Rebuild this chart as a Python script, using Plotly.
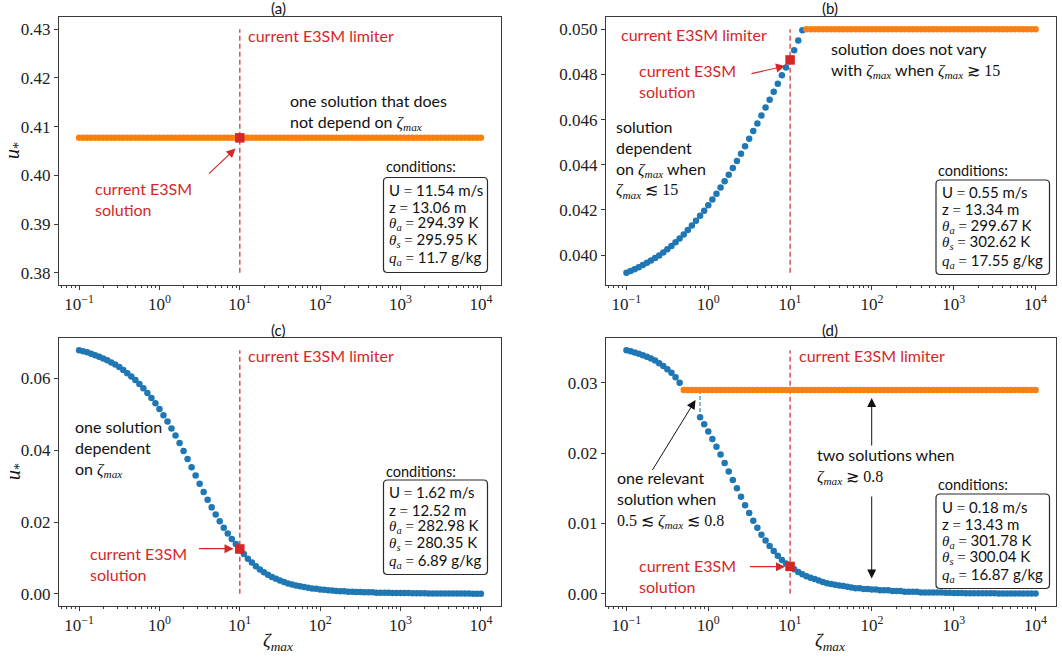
import numpy as np
import plotly.graph_objects as go

# ---------------------------------------------------------------------------
# data
# ---------------------------------------------------------------------------
# zeta_max sampling grid: 20 samples per decade from 1e-1 to 1e4
zeta_max = np.logspace(-1, 4, 101)
limiter = 10.0  # current E3SM limiter on zeta_max

# (a) one root, independent of zeta_max
ustar_a = [
    0.4077, 0.4077, 0.4077, 0.4077, 0.4077, 0.4077, 0.4077, 0.4077, 0.4077, 0.4077,
    0.4077, 0.4077, 0.4077, 0.4077, 0.4077, 0.4077, 0.4077, 0.4077, 0.4077, 0.4077,
    0.4077, 0.4077, 0.4077, 0.4077, 0.4077, 0.4077, 0.4077, 0.4077, 0.4077, 0.4077,
    0.4077, 0.4077, 0.4077, 0.4077, 0.4077, 0.4077, 0.4077, 0.4077, 0.4077, 0.4077,
    0.4077, 0.4077, 0.4077, 0.4077, 0.4077, 0.4077, 0.4077, 0.4077, 0.4077, 0.4077,
    0.4077, 0.4077, 0.4077, 0.4077, 0.4077, 0.4077, 0.4077, 0.4077, 0.4077, 0.4077,
    0.4077, 0.4077, 0.4077, 0.4077, 0.4077, 0.4077, 0.4077, 0.4077, 0.4077, 0.4077,
    0.4077, 0.4077, 0.4077, 0.4077, 0.4077, 0.4077, 0.4077, 0.4077, 0.4077, 0.4077,
    0.4077, 0.4077, 0.4077, 0.4077, 0.4077, 0.4077, 0.4077, 0.4077, 0.4077, 0.4077,
    0.4077, 0.4077, 0.4077, 0.4077, 0.4077, 0.4077, 0.4077, 0.4077, 0.4077, 0.4077,
    0.4077,
]

# (b) dependent branch (first 44 samples), then flat branch
ustar_b_dep = [
    0.03922, 0.03930, 0.03938, 0.03947, 0.03956, 0.03966, 0.03976, 0.03987, 0.03999, 0.04012,
    0.04026, 0.04041, 0.04057, 0.04074, 0.04092, 0.04111, 0.04131, 0.04152, 0.04174, 0.04197,
    0.04221, 0.04246, 0.04272, 0.04299, 0.04327, 0.04356, 0.04386, 0.04417, 0.04449, 0.04482,
    0.04515, 0.04549, 0.04583, 0.04618, 0.04653, 0.04688, 0.04723, 0.04759, 0.04796, 0.04830,
    0.04864, 0.04907, 0.04950, 0.04995,
]
ustar_b_flat = [
    0.0500, 0.0500, 0.0500, 0.0500, 0.0500, 0.0500, 0.0500, 0.0500, 0.0500, 0.0500,
    0.0500, 0.0500, 0.0500, 0.0500, 0.0500, 0.0500, 0.0500, 0.0500, 0.0500, 0.0500,
    0.0500, 0.0500, 0.0500, 0.0500, 0.0500, 0.0500, 0.0500, 0.0500, 0.0500, 0.0500,
    0.0500, 0.0500, 0.0500, 0.0500, 0.0500, 0.0500, 0.0500, 0.0500, 0.0500, 0.0500,
    0.0500, 0.0500, 0.0500, 0.0500, 0.0500, 0.0500, 0.0500, 0.0500, 0.0500, 0.0500,
    0.0500, 0.0500, 0.0500, 0.0500, 0.0500, 0.0500, 0.0500,
]

# (c) one root, dependent on zeta_max
ustar_c = [
    0.0679, 0.0676, 0.0673, 0.0669, 0.0665, 0.0661, 0.0656, 0.0651, 0.0645, 0.0639,
    0.0632, 0.0624, 0.0615, 0.0606, 0.0596, 0.0585, 0.0573, 0.0560, 0.0546, 0.0531,
    0.0515, 0.0498, 0.0480, 0.0461, 0.0441, 0.0420, 0.0398, 0.0376, 0.0353, 0.0330,
    0.0307, 0.0284, 0.0262, 0.0241, 0.0221, 0.0202, 0.0184, 0.0168, 0.0153, 0.0139,
    0.0125, 0.0111, 0.0098, 0.0087, 0.0077, 0.0068, 0.0060, 0.0053, 0.0047, 0.0042,
    0.0037, 0.0033, 0.0029, 0.0026, 0.0023, 0.0021, 0.0019, 0.0017, 0.0015, 0.0014,
    0.0012, 0.0011, 0.0010, 0.0009, 0.0008, 0.0007, 0.0007, 0.0006, 0.0006, 0.0005,
    0.0005, 0.0004, 0.0004, 0.0004, 0.0003, 0.0003, 0.0003, 0.0003, 0.0002, 0.0002,
    0.0002, 0.0002, 0.0002, 0.00015, 0.00014, 0.00013, 0.00012, 0.00011, 0.0001, 0.0001,
    0.00009, 0.00008, 0.00008, 0.00007, 0.00006, 0.00006, 0.00005, 0.00005, 0.00004, 0.00004,
    0.00004,
]

# (d) upper branch (first 14 samples), flat branch (from sample 14),
#     lower branch (from sample 18)
ustar_d_upper = [
    0.03465, 0.03450, 0.03433, 0.03414, 0.03393, 0.03370, 0.03345, 0.03317, 0.03280, 0.03240,
    0.03195, 0.03145, 0.03080, 0.03000,
]
ustar_d_flat = [
    0.0290, 0.0290, 0.0290, 0.0290, 0.0290, 0.0290, 0.0290, 0.0290, 0.0290, 0.0290,
    0.0290, 0.0290, 0.0290, 0.0290, 0.0290, 0.0290, 0.0290, 0.0290, 0.0290, 0.0290,
    0.0290, 0.0290, 0.0290, 0.0290, 0.0290, 0.0290, 0.0290, 0.0290, 0.0290, 0.0290,
    0.0290, 0.0290, 0.0290, 0.0290, 0.0290, 0.0290, 0.0290, 0.0290, 0.0290, 0.0290,
    0.0290, 0.0290, 0.0290, 0.0290, 0.0290, 0.0290, 0.0290, 0.0290, 0.0290, 0.0290,
    0.0290, 0.0290, 0.0290, 0.0290, 0.0290, 0.0290, 0.0290, 0.0290, 0.0290, 0.0290,
    0.0290, 0.0290, 0.0290, 0.0290, 0.0290, 0.0290, 0.0290, 0.0290, 0.0290, 0.0290,
    0.0290, 0.0290, 0.0290, 0.0290, 0.0290, 0.0290, 0.0290, 0.0290, 0.0290, 0.0290,
    0.0290, 0.0290, 0.0290, 0.0290, 0.0290, 0.0290, 0.0290,
]
ustar_d_lower = [
    0.0251, 0.0241, 0.0231, 0.0220, 0.0209, 0.0198, 0.0186, 0.0174, 0.0162, 0.0150,
    0.0138, 0.0126, 0.0115, 0.0104, 0.0094, 0.0084, 0.0076, 0.0068, 0.0061, 0.0054,
    0.0048, 0.0043, 0.0039, 0.0035, 0.0031, 0.0028, 0.0025, 0.0023, 0.0021, 0.0019,
    0.0017, 0.0015, 0.0014, 0.0013, 0.0012, 0.0011, 0.0010, 0.0009, 0.0008, 0.0008,
    0.0007, 0.0007, 0.0006, 0.0006, 0.0005, 0.0005, 0.0005, 0.0004, 0.0004, 0.0004,
    0.0003, 0.0003, 0.0003, 0.0003, 0.0002, 0.0002, 0.0002, 0.0002, 0.0002, 0.0002,
    0.00015, 0.00014, 0.00013, 0.00012, 0.00011, 0.0001, 0.0001, 0.00009, 0.00009, 0.00008,
    0.00008, 0.00007, 0.00007, 0.00006, 0.00006, 0.00005, 0.00005, 0.00005, 0.00004, 0.00004,
    0.00004, 0.00004, 0.00004,
]

# u* from the current E3SM setup (at zeta_max = limiter), per panel a-d
e3sm_ustar = [0.4077, 0.04864, 0.0125, 0.0039]
# vertical extent of the limiter line, per panel
limiter_lo = [0.38, 0.03922, 0.0, 0.0]
limiter_hi = [0.43, 0.0500, 0.0679, 0.03465]

# forcing conditions, per panel a-d
cond_U = [11.54, 0.55, 1.62, 0.18]
cond_z = [13.06, 13.34, 12.52, 13.43]
cond_theta_a = [294.39, 299.67, 282.98, 301.78]
cond_theta_s = [295.95, 302.62, 280.35, 300.04]
cond_q_a = [11.7, 17.55, 6.89, 16.87]

panel_titles = ["(a)", "(b)", "(c)", "(d)"]
xtick_vals = [0.1, 1, 10, 100, 1000, 10000]
xtick_text = ["10<sup>−1</sup>", "10<sup>0</sup>", "10<sup>1</sup>",
              "10<sup>2</sup>", "10<sup>3</sup>", "10<sup>4</sup>"]
ytick_vals = [
    [0.38, 0.39, 0.40, 0.41, 0.42, 0.43],
    [0.040, 0.042, 0.044, 0.046, 0.048, 0.050],
    [0.00, 0.02, 0.04, 0.06],
    [0.00, 0.01, 0.02, 0.03],
]
ytick_fmt = [".2f", ".3f", ".2f", ".2f"]
y_ranges = [
    [0.3775, 0.4325],
    [0.03868, 0.05054],
    [-0.0034, 0.0713],
    [-0.00173, 0.03638],
]

# ---------------------------------------------------------------------------
# styling helpers
# ---------------------------------------------------------------------------
W, H = 1062, 659
BLUE = "#1f77b4"
ORANGE = "#ff7f0e"
RED = "#d62728"
INK = "#111111"
FRAME = "#3a3a3a"
SANS = "Lato"
SERIF = "Liberation Serif"
FS = 16  # annotation font size


def px(x):
    return x / W


def py(y):
    return 1 - y / H


def math(s):
    return f'<span style="font-family:{SERIF}">{s}</span>'


ZMAX = math("<i>ζ</i><sub><i>max</i></sub>")

minor_vals = [m * 10.0 ** e for e in range(-2, 5) for m in range(2, 10)]

x_domains = [[59 / W, 501 / W], [606 / W, 1056 / W]]
y_domains = [[1 - 285 / H, 1 - 17 / H], [1 - 606 / H, 1 - 338 / H]]
panel_dom = [(0, 0), (1, 0), (0, 1), (1, 1)]  # (column, row)

fig = go.Figure()
layout_axes = {}
for k in range(4):
    col, row = panel_dom[k]
    sfx = "" if k == 0 else str(k + 1)
    layout_axes["xaxis" + sfx] = dict(
        domain=x_domains[col], anchor="y" + sfx, type="log", range=[-1.25, 4.25],
        tickmode="array", tickvals=xtick_vals, ticktext=xtick_text,
        ticks="outside", ticklen=4, tickwidth=1, tickcolor=FRAME,
        showline=True, linecolor=FRAME, linewidth=1, mirror=True,
        showgrid=False, zeroline=False,
        tickfont=dict(family=SERIF, size=17, color="#222222"),
        minor=dict(tickmode="array", tickvals=minor_vals, ticks="outside",
                   ticklen=2, tickwidth=0.8, tickcolor=FRAME, showgrid=False),
    )
    layout_axes["yaxis" + sfx] = dict(
        domain=y_domains[row], anchor="x" + sfx, range=y_ranges[k],
        tickmode="array", tickvals=ytick_vals[k], tickformat=ytick_fmt[k],
        ticks="outside", ticklen=4, tickwidth=1, tickcolor=FRAME,
        showline=True, linecolor=FRAME, linewidth=1, mirror=True,
        showgrid=False, zeroline=False,
        tickfont=dict(family=SERIF, size=17, color="#222222"),
    )


def dots(x, y, color, k):
    sfx = "" if k == 0 else str(k + 1)
    fig.add_trace(go.Scatter(
        x=x, y=y, mode="markers", xaxis="x" + sfx, yaxis="y" + sfx,
        marker=dict(color=color, size=6.5, line=dict(width=0)),
        showlegend=False, hoverinfo="skip"))


def axis_line(x, y, color, dash, width, k):
    sfx = "" if k == 0 else str(k + 1)
    fig.add_trace(go.Scatter(
        x=x, y=y, mode="lines", xaxis="x" + sfx, yaxis="y" + sfx,
        line=dict(color=color, dash=dash, width=width),
        showlegend=False, hoverinfo="skip"))


# limiter lines (behind the dots)
for k in range(4):
    axis_line([limiter, limiter], [limiter_lo[k], limiter_hi[k]], RED, "5px,3px", 1.2, k)

# panel (a)
dots(zeta_max, ustar_a, ORANGE, 0)
# panel (b)
dots(zeta_max[:44], ustar_b_dep, BLUE, 1)
dots(zeta_max[44:], ustar_b_flat, ORANGE, 1)
# panel (c)
dots(zeta_max, ustar_c, BLUE, 2)
# panel (d)
dots(zeta_max[:14], ustar_d_upper, BLUE, 3)
axis_line([zeta_max[18], zeta_max[18]], [ustar_d_flat[0], ustar_d_lower[0]],
          "#5b9fd0", "4px,2px", 1.5, 3)
dots(zeta_max[18:], ustar_d_lower, BLUE, 3)
dots(zeta_max[14:], ustar_d_flat, ORANGE, 3)

# current E3SM solution markers
for k in range(4):
    sfx = "" if k == 0 else str(k + 1)
    fig.add_trace(go.Scatter(
        x=[limiter], y=[e3sm_ustar[k]], mode="markers", xaxis="x" + sfx, yaxis="y" + sfx,
        marker=dict(color=RED, size=9.5, symbol="square", line=dict(width=0)),
        showlegend=False, hoverinfo="skip"))

# ---------------------------------------------------------------------------
# annotations
# ---------------------------------------------------------------------------
annotations = []
shapes = []


def text(x, y, s, color=INK, size=FS, family=SANS, xanchor="left", angle=0, pad=1):
    annotations.append(dict(
        x=px(x), y=py(y), xref="paper", yref="paper", text=s, showarrow=False,
        xanchor=xanchor, yanchor="middle", align="left", textangle=angle,
        borderpad=pad, font=dict(family=family, size=size, color=color)))


def arrow(tip, tail, color, width=1.2, size=1.0, head=2):
    annotations.append(dict(
        x=px(tip[0]), y=py(tip[1]), xref="paper", yref="paper",
        ax=tail[0] - tip[0], ay=tail[1] - tip[1], axref="pixel", ayref="pixel",
        text="", showarrow=True, arrowhead=head, arrowsize=size, arrowwidth=width,
        arrowcolor=color, standoff=0, startstandoff=0))


def rounded_box(x0, y0, x1, y1, r=4):
    p = [
        f"M {px(x0 + r)} {py(y0)}", f"L {px(x1 - r)} {py(y0)}",
        f"Q {px(x1)} {py(y0)} {px(x1)} {py(y0 + r)}",
        f"L {px(x1)} {py(y1 - r)}",
        f"Q {px(x1)} {py(y1)} {px(x1 - r)} {py(y1)}",
        f"L {px(x0 + r)} {py(y1)}",
        f"Q {px(x0)} {py(y1)} {px(x0)} {py(y1 - r)}",
        f"L {px(x0)} {py(y0 + r)}",
        f"Q {px(x0)} {py(y0)} {px(x0 + r)} {py(y0)}", "Z",
    ]
    shapes.append(dict(type="path", path=" ".join(p), xref="paper", yref="paper",
                       line=dict(color="#2a2a2a", width=1.2), fillcolor="white", layer="above"))


def conditions(k, left, label_y, box, line_ys):
    text(left, label_y, "conditions:", size=14.5)
    rounded_box(*box)
    eq = math(" = ")
    rows = [
        f"U{eq}{cond_U[k]:.2f} m/s",
        f"z{eq}{cond_z[k]:.2f} m",
        math("<i>θ</i><sub><i>a</i></sub>") + f"{eq}{cond_theta_a[k]:.2f} K",
        math("<i>θ</i><sub><i>s</i></sub>") + f"{eq}{cond_theta_s[k]:.2f} K",
        math("<i>q</i><sub><i>a</i></sub>") + f"{eq}{cond_q_a[k]:g} g/kg",
    ]
    for s, yy in zip(rows, line_ys):
        text(box[0] + 4.5, yy, s, size=15, pad=0)


# panel titles and axis titles
text(278, 8, panel_titles[0], xanchor="center", size=15)
text(830, 8, panel_titles[1], xanchor="center", size=15)
text(278, 330, panel_titles[2], xanchor="center", size=15)
text(830, 330, panel_titles[3], xanchor="center", size=15)
text(14, 151, "<i>u</i><sub>*</sub>", family=SERIF, size=20, xanchor="center", angle=-90)
text(14, 472, "<i>u</i><sub>*</sub>", family=SERIF, size=20, xanchor="center", angle=-90)
text(278, 642, "<i>ζ</i><sub><i>max</i></sub>", family=SERIF, size=19, xanchor="center")
text(830, 642, "<i>ζ</i><sub><i>max</i></sub>", family=SERIF, size=19, xanchor="center")

# (a)
text(245.5, 35.5, "current E3SM limiter", RED)
text(288, 111.5, f"one solution that does<br>not depend on {ZMAX}")
text(93, 199, "current E3SM<br>solution", RED)
arrow((235.5, 148.5), (207.5, 175), RED, size=1.5)
conditions(0, 383.5, 166.5, (383.5, 177.5, 487.5, 272.5), [189.5, 206.5, 223, 240, 257.5])

# (b)
text(619, 35, "current E3SM limiter", RED)
text(636.5, 81.5, "current E3SM<br>solution", RED)
arrow((785, 66), (750, 74), RED, size=1.5)
text(829, 59.5, f"solution does not vary<br>with {ZMAX} when {ZMAX} {math('≳ 15')}")
text(614, 158.5, f"solution<br>dependent<br>on {ZMAX} when<br>{ZMAX} {math('≲ 15')}")
conditions(1, 936, 171, (936, 180, 1049.5, 274.5), [192, 209, 226, 242.5, 260.5])

# (c)
text(245.5, 355.5, "current E3SM limiter", RED)
text(72.5, 448, f"one solution<br>dependent<br>on {ZMAX}")
text(88, 563.5, "current E3SM<br>solution", RED)
arrow((233.5, 548.7), (197.5, 548.7), RED, size=1.5)
conditions(2, 383.5, 471.5, (383.5, 480, 487.5, 574.5), [492, 509.5, 526, 542.5, 560.5])

# (d)
text(796.5, 356, "current E3SM limiter", RED)
text(615, 499, f"one relevant<br>solution when<br>{math('0.5 ≲ ')}{ZMAX}{math(' ≲ 0.8')}")
arrow((695.5, 400), (651.5, 471.5), INK, width=1.0, size=1.8)
text(815, 466, f"two solutions when<br>{ZMAX} {math('≳ 0.8')}")
arrow((871.7, 398), (871.7, 447), INK, width=1.0, size=1.8)
arrow((871.7, 578.5), (871.7, 495), INK, width=1.0, size=1.8)
text(636.5, 576, "current E3SM<br>solution", RED)
arrow((785, 566.7), (748.5, 566.7), RED, size=1.5)
conditions(3, 936, 484.5, (936, 494, 1049.5, 588.5), [506.5, 524, 540.5, 557, 575])

fig.update_layout(
    width=W, height=H, margin=dict(l=0, r=0, t=0, b=0),
    paper_bgcolor="white", plot_bgcolor="white",
    showlegend=False, annotations=annotations, shapes=shapes,
    **layout_axes,
)

fig.write_html("out.html")
